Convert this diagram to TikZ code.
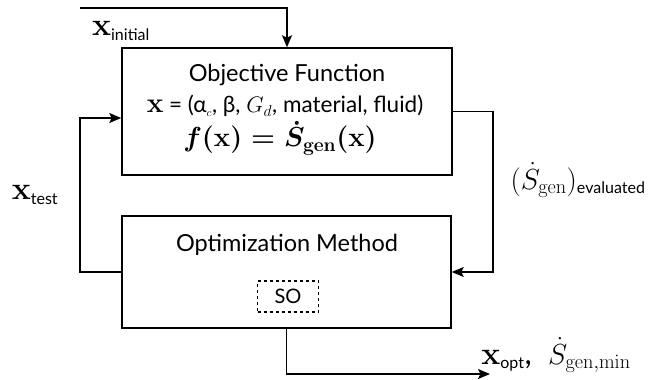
\RequirePackage{fix-cm}
\documentclass[tikz,border=0pt]{standalone}
\usepackage{amsmath,amssymb}
\usepackage[no-math]{fontspec}
\setmainfont{Lato}
\usetikzlibrary{arrows.meta}
\newcommand{\txtsize}{\fontsize{23.5}{26}\selectfont}
\newcommand{\varsize}{\fontsize{22.5}{24}\selectfont}
\newcommand{\bigsize}{\fontsize{29}{32}\selectfont}
\newcommand{\funsize}{\fontsize{27.5}{30}\selectfont}
\newcommand{\lblsize}{\fontsize{32}{34}\selectfont}
\newcommand{\subsize}{\fontsize{16}{18}\selectfont}
\newcommand{\sosize}{\fontsize{20}{22}\selectfont}
\newcommand{\bx}{$\mathbf{x}$}

\begin{document}
\begin{tikzpicture}[x=1pt,y=-1pt,>={Stealth[length=12pt,width=10pt,inset=2.5pt]}]
        \tikzstyle{block}=[rectangle,draw=black,line width=1.5pt,inner sep=0pt]
        \tikzstyle{txt}=[font=\txtsize,inner sep=0pt]
        \tikzstyle{flow}=[draw=black,line width=1.6pt,->]

        \useasboundingbox (0,0) rectangle (665,380);

        % the two blocks
        \node [block,minimum width=330pt,minimum height=127pt] (obj) at (287,111.5) {};
        \node [block,minimum width=329pt,minimum height=112pt] (opt) at (286.5,272) {};

        % texts in the blocks
        \node [txt] (objtitle) at (287,75) {Objective Function};
        \node [txt,font=\varsize] (objvars) at (285,106) {{\fontsize{28}{28}\selectfont\bx} = (α$_{\scriptscriptstyle c}$, β, $G_{d}$, material, fluid)};
        \node [txt,font=\funsize] (objfun) at (280,138) {{\boldmath$f(\mathbf{x}) = \dot{S}_{\mathrm{gen}}(\mathbf{x})$}};
        \node [txt] (opttitle) at (287,245) {Optimization Method};
        \node [draw=black,dashed,line width=1.3pt,minimum width=61pt,minimum height=31pt,font=\sosize] (so) at (288,296.5) {SO};

        % free ends
        \coordinate (init) at (80,8);
        \coordinate (tl) at (80,118);
        \coordinate (rt) at (493,0);
        \coordinate (out) at (490,374);

        % connectors
        \path[flow] (init) -| (obj.north);
        \path[flow] (opt.west) -| (tl) -- (tl -| obj.west);
        \path[flow] (obj.east) -| (rt |- opt.east) -- (opt.east);
        \path[flow] (opt.south) |- (out);

        % connector labels
        \node [txt,font=\lblsize] (xinit) at (121,31) {\bx\textsubscript{\subsize initial}};
        \node [txt,font=\lblsize] (xtest) at (35,195) {\bx\textsubscript{\subsize test}};
        \node [txt,font=\bigsize] (seval) at (578,180) {$(\dot{S}_{\mathrm{gen}})$\textsubscript{\subsize evaluated}};
        \node [txt,font=\lblsize] (xopt) at (556,355) {\bx\textsubscript{\subsize opt},\ \ {\bigsize$\dot{S}_{\mathrm{gen,min}}$}};
\end{tikzpicture}
\end{document}
